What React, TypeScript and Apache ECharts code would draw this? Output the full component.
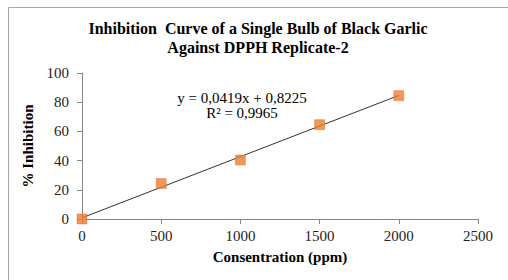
import React, { useEffect, useRef } from "react";
import * as echarts from "echarts";

const concentrations = [0, 500, 1000, 1500, 2000];
const inhibition = [0, 24.3, 40.4, 64.6, 84.5];
const trendX = [0, 2000];
const trendY = [0.82, 84.62];
const titleLines = ["Inhibition  Curve of a Single Bulb of Black Garlic", "Against DPPH Replicate-2"];
const equationLines = ["y = 0,0419x + 0,8225", "R² = 0,9965"];

const FONT = "'Liberation Serif', 'Times New Roman', serif";

export default function App() {
  const ref = useRef<HTMLDivElement>(null);
  useEffect(() => {
    document.body.style.margin = "0";
    const chart = echarts.init(ref.current!, null, { renderer: "svg" });
    chart.setOption({
      animation: false,
      backgroundColor: "#fff",
      title: {
        text: titleLines.join("\n"),
        left: 258,
        textAlign: "center",
        top: 19,
        padding: 0,
        textStyle: { fontFamily: FONT, fontSize: 16, fontWeight: "bold", color: "#000", lineHeight: 19 },
      },
      graphic: [
        {
          type: "rect",
          shape: { x: 8.5, y: 7.5, width: 520, height: 300 },
          style: { fill: "none", stroke: "#a6a6a6", lineWidth: 1 },
          silent: true,
        },
        {
          type: "text",
          x: 242,
          y: 105,
          style: {
            text: equationLines.join("\n"),
            font: `15px ${FONT}`,
            fill: "#000",
            align: "center",
            verticalAlign: "middle",
            lineHeight: 15,
          },
        },
      ],
      grid: { left: 82, right: 30, top: 73, bottom: 61 },
      xAxis: {
        type: "value",
        min: 0,
        max: 2500,
        interval: 500,
        name: "Consentration (ppm)",
        nameLocation: "middle",
        nameGap: 30,
        nameTextStyle: { fontFamily: FONT, fontSize: 15, fontWeight: "bold", color: "#000" },
        axisLine: { show: true, lineStyle: { color: "#868686" } },
        axisTick: { show: true, length: 5, lineStyle: { color: "#868686" } },
        axisLabel: { fontFamily: FONT, fontSize: 15, color: "#222", margin: 9, formatter: (v: number) => String(v) },
        splitLine: { show: false },
      },
      yAxis: {
        type: "value",
        min: 0,
        max: 100,
        interval: 20,
        name: "% Inhibition",
        nameLocation: "middle",
        nameGap: 33,
        nameTextStyle: { fontFamily: FONT, fontSize: 15, fontWeight: "bold", color: "#000" },
        axisLine: { show: true, lineStyle: { color: "#868686" } },
        axisTick: { show: true, length: 5, lineStyle: { color: "#868686" } },
        axisLabel: { fontFamily: FONT, fontSize: 15, color: "#222", margin: 13 },
        splitLine: { show: false },
      },
      series: [
        {
          type: "line",
          data: trendX.map((x, i) => [x, trendY[i]]),
          symbol: "none",
          lineStyle: { color: "#333", width: 1 },
          z: 2,
        },
        {
          type: "scatter",
          data: concentrations.map((x, i) => [x, inhibition[i]]),
          symbol: "rect",
          symbolSize: 10,
          itemStyle: { color: "#ED7D31", borderColor: "#d66a22", borderWidth: 0.5 },
          z: 3,
        },
      ],
    });
    return () => chart.dispose();
  }, []);
  return <div ref={ref} style={{ width: 508, height: 280 }} />;
}
